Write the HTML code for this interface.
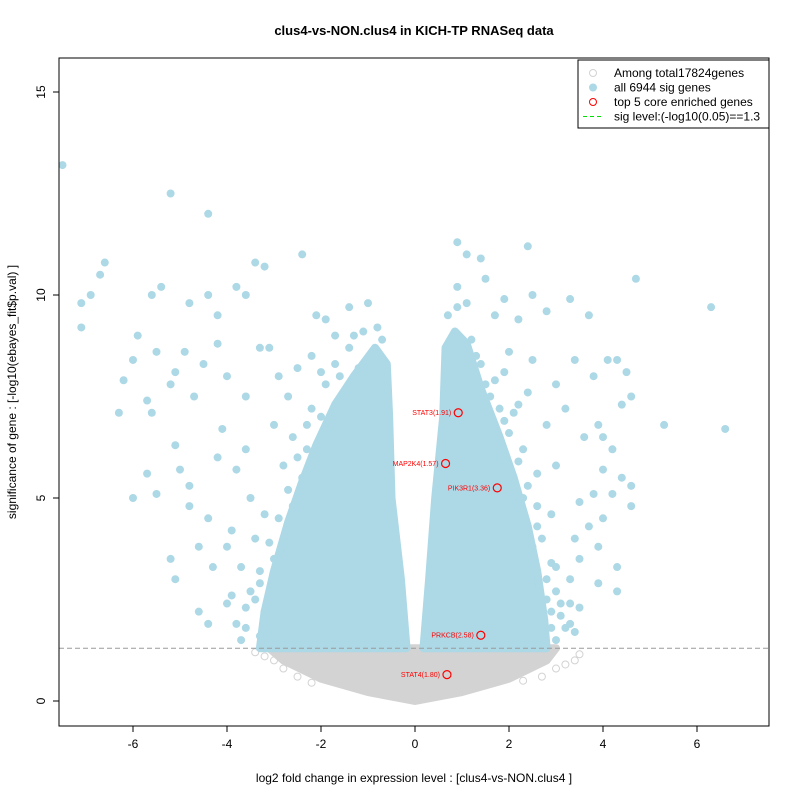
<!DOCTYPE html>
<html><head><meta charset="utf-8"><style>
body{margin:0;background:#fff}
svg{display:block;font-family:"Liberation Sans",sans-serif}
</style></head><body>
<svg id="chart" width="800" height="800" viewBox="0 0 800 800"></svg>
<script>
const leftLobe=[[-0.18,1.3],[-0.3,3],[-0.5,5],[-0.55,7],[-0.6,8.3],[-0.85,8.7],[-1.3,8.0],[-1.7,7.3],[-2.1,6.3],[-2.4,5.4],[-2.7,4.4],[-3.0,3.2],[-3.2,2.2],[-3.3,1.3]];
const rightLobe=[[0.18,1.3],[0.3,3],[0.43,5],[0.6,7],[0.65,8.7],[0.85,9.1],[1.1,8.8],[1.4,7.7],[1.8,6.5],[2.1,5.5],[2.4,4.3],[2.6,3.2],[2.75,2.0],[2.8,1.3]];
const grayBase=[[-3.1,1.3],[-2.8,1.0],[-2,0.55],[-1,0.22],[0,0],[1,0.22],[2,0.55],[2.8,1.0],[3.0,1.3]];
const sigPoints=[[-7.5,13.2],[-5.2,12.5],[-4.4,12],[-6.6,10.8],[-6.7,10.5],[-6.9,10],[-7.1,9.8],[-7.1,9.2],[-5.4,10.2],[-5.6,10],[-4.8,9.8],[-4.4,10],[-3.8,10.2],[-3.6,10],[-3.4,10.8],[-3.2,10.7],[-2.4,11],[-4.2,9.5],[-6.0,8.4],[-5.9,9],[-6.2,7.9],[-6.3,7.1],[-5.5,8.6],[-5.2,7.8],[-5.1,8.1],[-4.9,8.6],[-4.5,8.3],[-4.7,7.5],[-4.2,8.8],[-4,8],[-5.7,7.4],[-5.6,7.1],[-6,5],[-5.7,5.6],[-5.5,5.1],[-5.1,6.3],[-5,5.7],[-4.8,5.3],[-4.8,4.8],[-5.2,3.5],[-5.1,3],[-4.6,3.8],[-4.4,4.5],[-4.3,3.3],[-4.6,2.2],[-4.4,1.9],[-3.9,4.2],[-3.6,6.2],[-3.6,7.5],[-3.3,8.7],[-3.1,8.7],[-2.9,8],[-2.7,7.5],[-3.8,5.7],[-4,3.8],[-3.5,5],[-3.4,4],[-3.7,3.3],[-3.3,2.9],[-1.9,9.4],[-2.1,9.5],[-1.7,9],[-1.4,9.7],[-1.3,9],[-1,9.8],[-0.9,8.6],[-1.2,8.2],[-1.6,8],[-2.2,8.5],[-2.5,8.2],[-2.6,6.5],[-4.1,6.7],[-4.2,6],[-3,6.8],[-2.8,5.8],[-3.2,4.6],[-3.0,3.5],[-3.6,1.8],[-3.3,1.6],
[-2.3,6.8],[-2.5,6],[-2.7,5.2],[-2.9,4.5],[-3.1,3.9],[-3.3,3.2],[-3.4,2.5],[-3.6,2.3],[-3.7,1.5],[-2.4,5.5],[-2.2,7.2],[-1.9,7.8],[-1.7,8.3],[-2.0,7.0],[-3.0,2.8],[-3.2,2.2],[-2.6,4.8],[-2.8,3.9],[-3.5,2.7],[-3.9,2.6],[-3.8,1.9],[-4.0,2.4],[-2.3,6.2],[-2.0,8.1],[-1.4,8.7],[-1.1,9.1],[-0.8,9.2],[-0.7,8.9],
[0.9,11.3],[1.1,11],[1.4,10.9],[2.4,11.2],[0.9,10.2],[1.5,10.4],[1.7,9.5],[1.9,9.9],[2.2,9.4],[2.5,10],[2.8,9.6],[3.3,9.9],[3.7,9.5],[4.7,10.4],[6.3,9.7],[2,8.6],[2.5,8.4],[3,7.8],[3.4,8.4],[3.8,8],[4.1,8.4],[4.3,8.4],[4.5,8.1],[4.6,7.5],[4.4,7.3],[3.9,6.8],[4,6.5],[3.6,6.5],[3.2,7.2],[2.8,6.8],[5.3,6.8],[6.6,6.7],[4.2,6.2],[4,5.7],[4.4,5.5],[4.2,5.1],[4.6,5.3],[3.8,5.1],[3.5,4.9],[4.6,4.8],[4,4.5],[3.7,4.3],[3.4,4],[3.9,3.8],[3.5,3.5],[3,3.3],[4.3,3.3],[3.9,2.9],[3.5,2.3],[4.3,2.7],[3.1,2.1],[3.2,1.8],[2.8,2.5],[2.6,4.3],[2.6,5.6],[2.3,6.2],[2.2,7.3],[1.7,7.9],[1.4,8.3],[1.2,8.9],[3.0,5.8],[2.9,4.6],[3.3,3],[2.9,1.8],[1.9,8.1],[2.4,7.6],
[1.3,8.5],[1.5,7.8],[1.8,7.2],[2.0,6.6],[2.2,5.9],[2.4,5.3],[2.6,4.8],[2.7,4.0],[2.9,3.4],[3.0,2.7],[3.1,2.4],[3.3,1.9],[3.4,1.7],[2.3,5.0],[2.5,3.8],[1.9,6.9],[1.6,7.5],[2.1,7.1],[2.8,3.0],[2.9,2.2],[3.3,2.4],[3.0,1.5],[0.7,9.5],[0.9,9.7],[1.1,9.8],[1.0,8.6]];
const grayPoints=[[-3,1],[-2.8,0.8],[-3.2,1.1],[3.2,0.9],[3,0.8],[2.7,0.6],[-2.5,0.6],[-2.2,0.45],[2.3,0.5],[3.4,1.0],[-3.4,1.2],[3.5,1.15]];
const topGenes=["STAT3(1.91)","MAP2K4(1.57)","PIK3R1(3.36)","PRKCB(2.58)","STAT4(1.80)"];
const topX=[0.92,0.65,1.75,1.4,0.68];
const topY=[7.1,5.85,5.25,1.62,0.65];
const xTicks=[-6,-4,-2,0,2,4,6];
const yTicks=[0,5,10,15];
const sigLevel=1.3;

const svg=document.getElementById('chart');
const NS='http://www.w3.org/2000/svg';
const L=59,R=769,T=58,B=726;
const sx=v=>415+v*47;
const sy=v=>701-v*40.6;
function mk(tag,attrs,parent){const e=document.createElementNS(NS,tag);for(const k in attrs)e.setAttribute(k,attrs[k]);(parent||svg).appendChild(e);return e;}
const clip=mk('clipPath',{id:'pc'});mk('rect',{x:L,y:T,width:R-L,height:B-T},clip);
const g=mk('g',{'clip-path':'url(#pc)'});


function poly(arr,fill,name){const p=mk('polygon',{points:arr.map(d=>sx(d[0])+','+sy(d[1])).join(' '),fill:fill,stroke:fill,'stroke-width':8,'stroke-linejoin':'round'},g);

}
poly(grayBase,'#d3d3d3','nonsig-dense-region');
grayPoints.forEach(d=>{const c=mk('circle',{cx:sx(d[0]),cy:sy(d[1]),r:3.5,fill:'none',stroke:'#d3d3d3'},g);

});
poly(leftLobe,'#add8e6','sig-dense-left');
poly(rightLobe,'#add8e6','sig-dense-right');
sigPoints.forEach(d=>{const c=mk('circle',{cx:sx(d[0]),cy:sy(d[1]),r:4,fill:'#add8e6'},g);

});
const sl=mk('line',{x1:L,x2:R,y1:sy(sigLevel),y2:sy(sigLevel),stroke:'#9a9a9a','stroke-dasharray':'5,3'},g);


topGenes.forEach((n,i)=>{const c=mk('circle',{cx:sx(topX[i]),cy:sy(topY[i]),r:4,fill:'none',stroke:'red','stroke-width':1.2},g);


const t=mk('text',{x:sx(topX[i])-7,y:sy(topY[i])+2.5,'text-anchor':'end','font-size':7,fill:'red'},g);t.textContent=n;

});
const fr=mk('rect',{x:L,y:T,width:R-L,height:B-T,fill:'none',stroke:'#000'});


xTicks.forEach(v=>{mk('line',{x1:sx(v),x2:sx(v),y1:B,y2:B+6,stroke:'#000'});const t=mk('text',{x:sx(v),y:B+22,'text-anchor':'middle','font-size':12},svg);t.textContent=v;

});
yTicks.forEach(v=>{mk('line',{x1:L-6,x2:L,y1:sy(v),y2:sy(v),stroke:'#000'});const t=mk('text',{x:L-14,y:sy(v),'text-anchor':'middle','font-size':12,transform:`rotate(-90 ${L-14} ${sy(v)})`},svg);t.textContent=v;

});
</script>
<script>
(function(){const svg=document.getElementById('chart');const NS='http://www.w3.org/2000/svg';
function tx(x,y,s,str,o){const e=document.createElementNS(NS,'text');e.setAttribute('x',x);e.setAttribute('y',y);e.setAttribute('font-size',s);for(const k in (o||{}))e.setAttribute(k,o[k]);e.textContent=str;svg.appendChild(e);return e;}
let t=tx(414,35,13,'clus4-vs-NON.clus4 in KICH-TP RNASeq data',{'text-anchor':'middle','font-weight':'bold'});


t=tx(414,782,12,'log2 fold change in expression level : [clus4-vs-NON.clus4 ]',{'text-anchor':'middle'});


t=tx(16,392,12,'significance of gene : [-log10(ebayes_fit$p.val) ]',{'text-anchor':'middle',transform:'rotate(-90 16 392)'});


const lg=document.createElementNS(NS,'g');svg.appendChild(lg);


const r=document.createElementNS(NS,'rect');r.setAttribute('x',578);r.setAttribute('y',60);r.setAttribute('width',191);r.setAttribute('height',68);r.setAttribute('fill','#fff');r.setAttribute('stroke','#000');lg.appendChild(r);
const items=[['Among total17824genes','og'],['all 6944 sig genes','fb'],['top 5 core enriched genes','or'],['sig level:(-log10(0.05)==1.3','ln']];
items.forEach((it,i)=>{const y=73+i*14.5;let m;
if(it[1]==='ln'){m=document.createElementNS(NS,'line');m.setAttribute('x1',583);m.setAttribute('x2',603);m.setAttribute('y1',y);m.setAttribute('y2',y);m.setAttribute('stroke','#00dd00');m.setAttribute('stroke-dasharray','4,3');}
else{m=document.createElementNS(NS,'circle');m.setAttribute('cx',593);m.setAttribute('cy',y);m.setAttribute('r',3.5);
m.setAttribute('fill',it[1]==='fb'?'#add8e6':'none');m.setAttribute('stroke',it[1]==='og'?'#d3d3d3':it[1]==='or'?'red':'#add8e6');}


lg.appendChild(m);
const e=document.createElementNS(NS,'text');e.setAttribute('x',614);e.setAttribute('y',y+4);e.setAttribute('font-size',12);e.textContent=it[0];


lg.appendChild(e);});
})();
</script>
</body></html>
